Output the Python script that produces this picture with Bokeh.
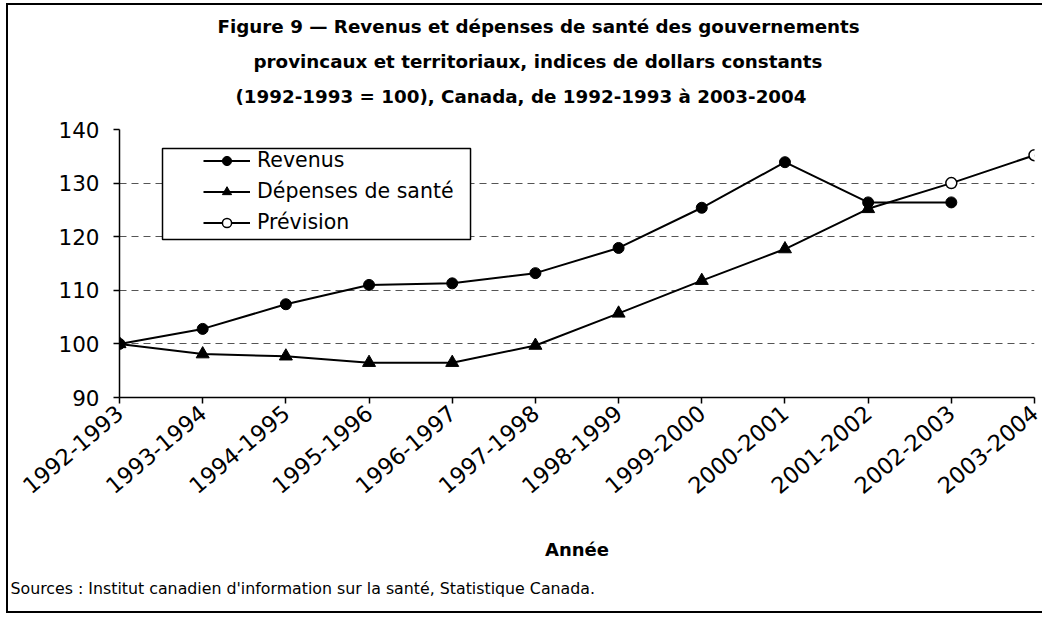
import math
from bokeh.plotting import figure
from bokeh.models import FixedTicker, Legend, LegendItem, Title, Range1d, BoxAnnotation
from bokeh.embed import file_html
from bokeh.resources import INLINE

categories = ["1992-1993", "1993-1994", "1994-1995", "1995-1996", "1996-1997",
              "1997-1998", "1998-1999", "1999-2000", "2000-2001", "2001-2002",
              "2002-2003", "2003-2004"]
revenus = [100.0, 102.8, 107.4, 111.0, 111.3, 113.2, 117.9, 125.4, 133.9, 126.4, 126.4, float("nan")]
depenses = [100.0, 98.1, 97.7, 96.5, 96.5, 99.7, 105.7, 111.8, 117.7, 125.2, float("nan"), float("nan")]
prevision = [float("nan")] * 9 + [125.2, 130.0, 135.2]
y_ticks = [90, 100, 110, 120, 130, 140]

FONT = "DejaVu Sans"
x = list(range(len(categories)))

p = figure(width=1036, height=610, output_backend="svg", toolbar_location=None,
           x_range=Range1d(0, len(categories) - 1), y_range=Range1d(90, 140),
           min_border_left=111, min_border_right=10, min_border_top=124, min_border_bottom=218)
p.styles = {"margin-left": "6px", "margin-top": "3px",
            "border-left": "2px solid black", "border-top": "2px solid black",
            "border-bottom": "2px solid black"}
p.outline_line_color = None
p.background_fill_color = "white"
p.border_fill_color = "white"

# spacer between the frame and the title block
p.add_layout(Title(text=" ", text_font_size="1px", standoff=14), "above")
# Title lines (added from nearest-to-plot outward); offsets centre each line near x=538
title_lines = ["Figure 9 \u2014 Revenus et d\u00e9penses de sant\u00e9 des gouvernements",
               "provincaux et territoriaux, indices de dollars constants",
               "(1992-1993 = 100), Canada, de 1992-1993 \u00e0 2003-2004"]
title_offsets = [98, 134, 116]
for t, off in reversed(list(zip(title_lines, title_offsets))):
    p.add_layout(Title(text=t, align="left", offset=off, text_font=FONT,
                       text_font_size="18.3px", text_font_style="bold",
                       text_color="black", standoff=12), "above")

# axes
p.yaxis.ticker = FixedTicker(ticks=y_ticks)
p.xaxis.ticker = FixedTicker(ticks=x)
p.xaxis.major_label_overrides = {i: c for i, c in enumerate(categories)}
p.xaxis.major_label_orientation = 0.70
for ax in (p.xaxis[0], p.yaxis[0]):
    ax.axis_line_color = "black"
    ax.axis_line_width = 1.5
    ax.major_tick_line_color = "black"
    ax.major_tick_line_width = 1.5
    ax.major_tick_in = 0
    ax.major_tick_out = 6
    ax.minor_tick_line_color = None
    ax.major_label_text_font = FONT
    ax.major_label_text_color = "black"
p.yaxis.major_label_text_font_size = "21.5px"
p.xaxis.major_label_text_font_size = "22.5px"
p.yaxis.major_label_standoff = 14
p.xaxis.major_label_standoff = 6
p.xaxis.axis_label = "Ann\u00e9e"
p.xaxis.axis_label_text_font = FONT
p.xaxis.axis_label_text_font_size = "18px"
p.xaxis.axis_label_text_font_style = "bold"
p.xaxis.axis_label_text_color = "black"
p.xaxis.axis_label_standoff = 34

p.xgrid.visible = False
p.ygrid.grid_line_color = "#555555"
p.ygrid.grid_line_width = 1
p.ygrid.grid_line_dash = "7 5"

# sources
p.add_layout(Title(text="Sources : Institut canadien d'information sur la sant\u00e9, Statistique Canada.",
                   align="left", offset=-109, text_font=FONT, text_font_size="15.8px",
                   text_font_style="normal", text_color="black", standoff=28), "below")

# series
rl = p.line(x, revenus, line_color="black", line_width=2)
rs = p.scatter(x, revenus, marker="circle", size=11, fill_color="black", line_color="black")
dl = p.line(x, depenses, line_color="black", line_width=2)
pl = p.line(x, prevision, line_color="black", line_width=2)
ds = p.scatter(x, depenses, marker="triangle", size=13, fill_color="black", line_color="black")
px_ = [xi for xi, d, v in zip(x, depenses, prevision) if d != d and v == v]
py_ = [v for d, v in zip(depenses, prevision) if d != d and v == v]
ps = p.scatter(px_, py_, marker="circle", size=11, fill_color="white", line_color="black", line_width=1.5)

# legend frame (white box over the grid) and legend entries
p.add_layout(BoxAnnotation(left=0.517, right=4.22, top=136.46, bottom=119.48,
                           fill_color="white", fill_alpha=1, line_color="black",
                           line_width=1.5, line_alpha=1))
legend = Legend(items=[LegendItem(label="Revenus", renderers=[rl, rs]),
                       LegendItem(label="D\u00e9penses de sant\u00e9", renderers=[dl, ds]),
                       LegendItem(label="Pr\u00e9vision", renderers=[pl, ps])],
                location=(84, 163), label_text_font=FONT, label_text_font_size="20.5px",
                label_text_color="black", glyph_width=47, glyph_height=23, label_height=23,
                spacing=7, padding=0, margin=0, label_standoff=7,
                border_line_color=None, background_fill_alpha=0)
p.add_layout(legend)

open("out.html", "w").write(file_html(p, INLINE))
